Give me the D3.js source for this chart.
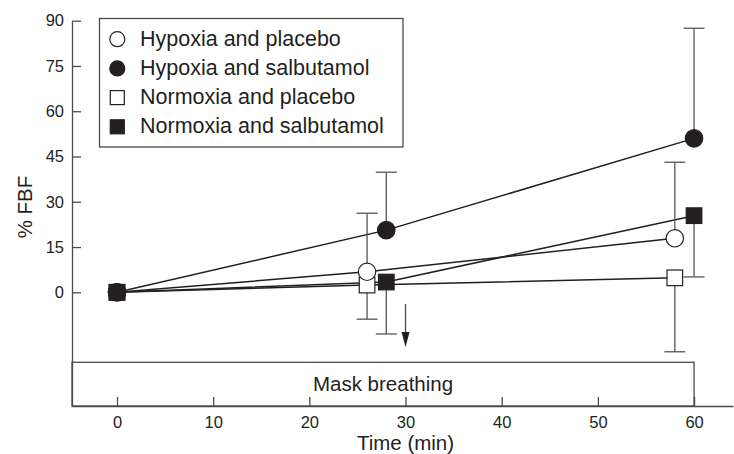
<!DOCTYPE html>
<html>
<head>
<meta charset="utf-8">
<script src="https://cdn.jsdelivr.net/npm/d3@7"></script>
<style>
  html, body { margin: 0; padding: 0; background: #fff; }
  svg { display: block; font-family: "Liberation Sans", Arial, Helvetica, sans-serif; }
</style>
</head>
<body>
<svg id="chart" width="734" height="454"></svg>
<script>
// ---- data ----
const seriesNames = ["Hypoxia and placebo", "Hypoxia and salbutamol", "Normoxia and placebo", "Normoxia and salbutamol"];
const placeboTimes = [0, 26, 58];
const salbutamolTimes = [0, 28, 60];
const hypoxiaPlaceboValues = [0, 6.8, 17.9];
const hypoxiaPlaceboErrors = [0, 19.4, 25.2];       // drawn upward
const hypoxiaSalbutamolValues = [0, 20.6, 51.0];
const hypoxiaSalbutamolErrors = [0, 19.2, 36.5];    // drawn upward
const normoxiaPlaceboValues = [0, 2.4, 4.8];
const normoxiaPlaceboErrors = [0, 11.3, 24.5];      // drawn downward
const normoxiaSalbutamolValues = [0, 3.4, 25.4];
const normoxiaSalbutamolErrors = [0, 17.2, 20.3];   // drawn downward
const yTicks = [0, 15, 30, 45, 60, 75, 90];
const xTicks = [0, 10, 20, 30, 40, 50, 60];
const maskStart = -4.68, maskEnd = 60;
const arrowTime = 30, arrowFrom = -3.9, arrowTo = -18.1;

const series = [
  {name: seriesNames[2], times: placeboTimes, values: normoxiaPlaceboValues, errors: normoxiaPlaceboErrors, dir: -1, shape: "square", filled: false},
  {name: seriesNames[0], times: placeboTimes, values: hypoxiaPlaceboValues, errors: hypoxiaPlaceboErrors, dir: 1, shape: "circle", filled: false},
  {name: seriesNames[1], times: salbutamolTimes, values: hypoxiaSalbutamolValues, errors: hypoxiaSalbutamolErrors, dir: 1, shape: "circle", filled: true},
  {name: seriesNames[3], times: salbutamolTimes, values: normoxiaSalbutamolValues, errors: normoxiaSalbutamolErrors, dir: -1, shape: "square", filled: true}
];
const legendOrder = [
  {name: seriesNames[0], shape: "circle", filled: false},
  {name: seriesNames[1], shape: "circle", filled: true},
  {name: seriesNames[2], shape: "square", filled: false},
  {name: seriesNames[3], shape: "square", filled: true}
];

// ---- layout ----
const svg = d3.select("#chart");
const ink = "#231f20";
const axisColor = "#4a4a4a";
const x = d3.scaleLinear().domain([-4.68, 64.05]).range([72, 733]);
const y = d3.scaleLinear().domain([-37.67, 90]).range([406, 20.7]);

// mask breathing box
const boxTop = 362.3;
svg.append("rect")
  .attr("x", x(maskStart)).attr("y", boxTop)
  .attr("width", x(maskEnd) - x(maskStart)).attr("height", y.range()[0] - boxTop)
  .attr("fill", "none").attr("stroke", axisColor).attr("stroke-width", 1.3);
svg.append("text")
  .attr("x", (x(maskStart) + x(maskEnd)) / 2).attr("y", 391)
  .attr("text-anchor", "middle").attr("font-size", 20.5).attr("fill", ink)
  .text("Mask breathing");

// axes
const yAxis = d3.axisLeft(y).tickValues(yTicks).tickSizeInner(-9).tickSizeOuter(0).tickPadding(8);
const gy = svg.append("g").attr("transform", `translate(${x.range()[0]},0)`).call(yAxis);
const xAxis = d3.axisBottom(x).tickValues(xTicks).tickSizeInner(-9).tickSizeOuter(0).tickPadding(10);
const gx = svg.append("g").attr("transform", `translate(0,${y.range()[0]})`).call(xAxis);
[gx, gy].forEach(g => {
  g.select(".domain").attr("stroke", axisColor).attr("stroke-width", 1.3);
  g.selectAll(".tick line").attr("stroke", axisColor).attr("stroke-width", 1.3);
  g.selectAll(".tick text").attr("font-size", 16.5).attr("fill", ink)
    .attr("font-family", '"Liberation Sans", Arial, sans-serif');
});

svg.append("text")
  .attr("x", (x(0) + x(60)) / 2).attr("y", 450)
  .attr("text-anchor", "middle").attr("font-size", 20.5).attr("fill", ink)
  .text("Time (min)");
svg.append("text")
  .attr("transform", "translate(31.5,207) rotate(-90)")
  .attr("text-anchor", "middle").attr("font-size", 20.5).attr("fill", ink)
  .text("% FBF");

// arrow
svg.append("line")
  .attr("x1", x(arrowTime)).attr("x2", x(arrowTime))
  .attr("y1", y(arrowFrom)).attr("y2", y(arrowTo) - 12)
  .attr("stroke", axisColor).attr("stroke-width", 1.3);
svg.append("path")
  .attr("d", `M${x(arrowTime) - 4},${y(arrowTo) - 15} L${x(arrowTime) + 4},${y(arrowTo) - 15} L${x(arrowTime)},${y(arrowTo)} Z`)
  .attr("fill", ink);

// lines
const line = d3.line().x(d => x(d[0])).y(d => y(d[1]));
series.forEach(s => {
  svg.append("path")
    .datum(s.times.map((t, i) => [t, s.values[i]]))
    .attr("d", line).attr("fill", "none").attr("stroke", ink).attr("stroke-width", 1.5);
});

// error bars
const capHalf = 10.5;
series.forEach(s => {
  s.times.forEach((t, i) => {
    if (!s.errors[i]) return;
    const end = s.values[i] + s.dir * s.errors[i];
    svg.append("line")
      .attr("x1", x(t)).attr("x2", x(t)).attr("y1", y(s.values[i])).attr("y2", y(end))
      .attr("stroke", "#555").attr("stroke-width", 1.3);
    svg.append("line")
      .attr("x1", x(t) - capHalf).attr("x2", x(t) + capHalf).attr("y1", y(end)).attr("y2", y(end))
      .attr("stroke", "#555").attr("stroke-width", 1.3);
  });
});

// markers
function marker(g, shape, filled, cx, cy, size) {
  if (shape === "circle") {
    g.append("circle").attr("cx", cx).attr("cy", cy).attr("r", size / 2)
      .attr("fill", filled ? ink : "#fff").attr("stroke", ink).attr("stroke-width", 1.2);
  } else {
    g.append("rect").attr("x", cx - size / 2).attr("y", cy - size / 2)
      .attr("width", size).attr("height", size)
      .attr("fill", filled ? ink : "#fff").attr("stroke", ink).attr("stroke-width", 1.2);
  }
}
const markG = svg.append("g");
series.forEach(s => {
  s.times.forEach((t, i) => {
    marker(markG, s.shape, s.filled, x(t), y(s.values[i]), s.shape === "circle" ? 17.4 : 15.6);
  });
});

// legend
svg.append("rect").attr("x", 99.5).attr("y", 18.5).attr("width", 303.5).attr("height", 128.5)
  .attr("fill", "#fff").attr("stroke", axisColor).attr("stroke-width", 1.3);
const legendRows = [39.2, 68.4, 97.6, 126.8];
legendOrder.forEach((d, i) => {
  marker(svg, d.shape, d.filled, 117.3, legendRows[i], d.shape === "circle" ? 15 : 14);
  svg.append("text").attr("x", 140).attr("y", legendRows[i] + 6.5)
    .attr("font-size", 21.5).attr("fill", ink).text(d.name);
});
</script>
</body>
</html>
